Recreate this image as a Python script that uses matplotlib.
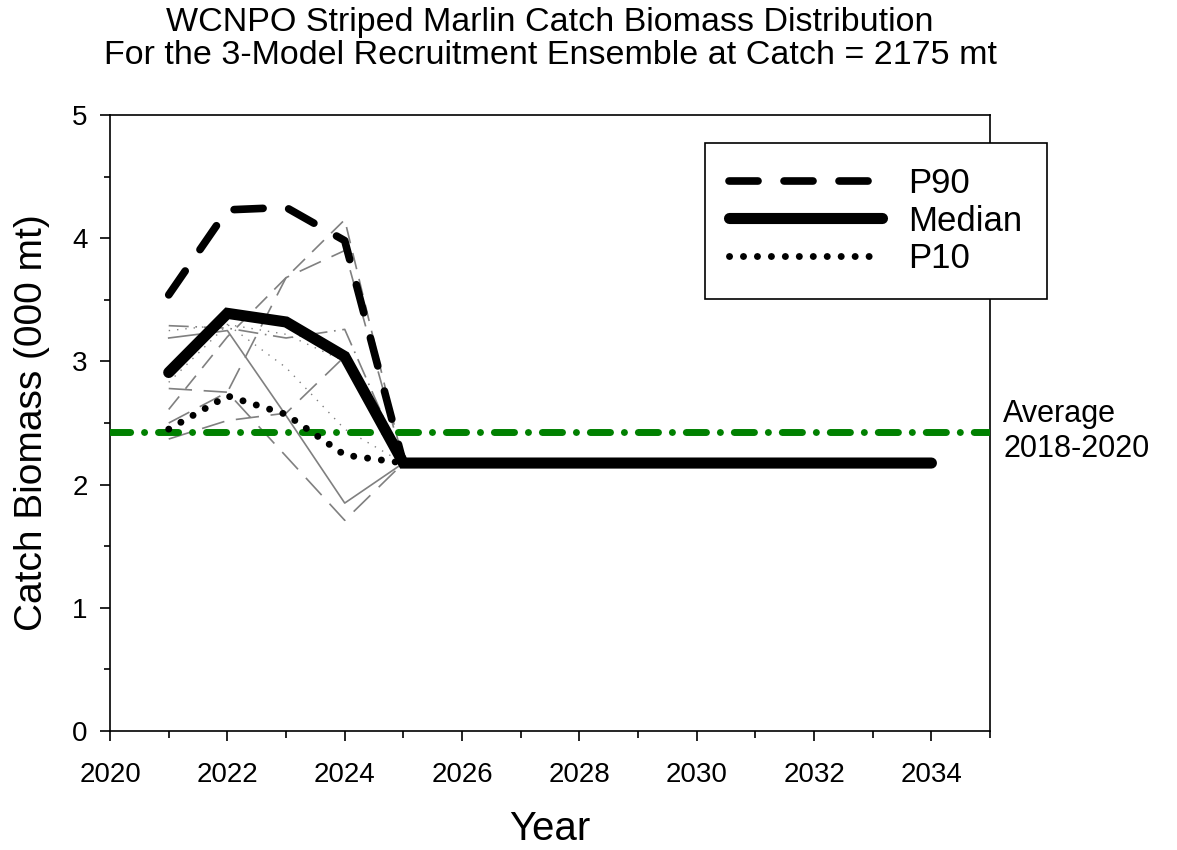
import matplotlib
matplotlib.use("Agg")
import matplotlib.pyplot as plt
from matplotlib.ticker import MultipleLocator

plt.rcParams['font.family'] = ['Liberation Sans', 'DejaVu Sans']

# data (000 mt)
years = [2021, 2022, 2023, 2024, 2025, 2026, 2027, 2028, 2029, 2030, 2031, 2032, 2033, 2034]
p90 = [3.54, 4.23, 4.25, 3.98, 2.175, 2.175, 2.175, 2.175, 2.175, 2.175, 2.175, 2.175, 2.175, 2.175]
median = [2.91, 3.39, 3.32, 3.04, 2.175, 2.175, 2.175, 2.175, 2.175, 2.175, 2.175, 2.175, 2.175, 2.175]
p10 = [2.45, 2.72, 2.57, 2.24, 2.175, 2.175, 2.175, 2.175, 2.175, 2.175, 2.175, 2.175, 2.175, 2.175]
avg_2018_2020 = 2.43

# individual ensemble runs (thin gray), 2021-2025
run_years = [2021, 2022, 2023, 2024, 2025]
run1 = [3.19, 3.25, 2.56, 1.85, 2.175]
run2 = [2.78, 2.75, 2.23, 1.71, 2.175]
run3 = [2.61, 3.20, 3.68, 4.15, 2.175]
run4 = [2.50, 2.75, 3.68, 3.90, 2.175]
run5 = [3.29, 3.27, 3.19, 3.26, 2.175]
run6 = [2.83, 3.30, 2.95, 2.45, 2.175]
run7 = [3.25, 3.30, 3.22, 3.00, 2.175]
run8 = [2.37, 2.52, 2.58, 3.04, 2.175]

fig = plt.figure(figsize=(11.77, 8.5), dpi=100)
ax = fig.add_axes([0.0935, 0.140, 0.7477, 0.7247])

gray = '#808080'
ax.plot(run_years, run1, color=gray, lw=1.2, ls='-')
ax.plot(run_years, run2, color=gray, lw=1.2, ls=(0, (14, 7)))
ax.plot(run_years, run3, color=gray, lw=1.2, ls=(0, (10, 6)))
ax.plot(run_years, run4, color=gray, lw=1.2, ls=(0, (14, 7)))
ax.plot(run_years, run5, color=gray, lw=1.2, ls=(0, (12, 4, 1, 4)))
ax.plot(run_years, run6, color=gray, lw=1.0, ls=(0, (1, 5)))
ax.plot(run_years, run7, color=gray, lw=1.0, ls=(0, (1, 5)))
ax.plot(run_years, run8, color=gray, lw=1.2, ls=(0, (14, 7)))

ax.axhline(avg_2018_2020, color='#008000', lw=5, ls=(0, (2.9, 2, 0.01, 2)),
           dash_capstyle='round', zorder=3)

l90, = ax.plot(years, p90, color='black', lw=5.5, ls=(0, (3.8, 3.4)),
               dash_capstyle='round', solid_capstyle='round', zorder=4, label='P90')
lmed, = ax.plot(years, median, color='black', lw=8, solid_capstyle='round',
                solid_joinstyle='miter', zorder=5, label='Median')
l10, = ax.plot(years, p10, color='black', lw=5, ls=(0, (0.01, 2.0)),
               dash_capstyle='round', zorder=4, label='P10')

ax.set_xlim(2020, 2035)
ax.set_ylim(0, 5)
ax.xaxis.set_major_locator(MultipleLocator(2))
ax.xaxis.set_minor_locator(MultipleLocator(1))
ax.yaxis.set_major_locator(MultipleLocator(1))
ax.yaxis.set_minor_locator(MultipleLocator(0.5))
ax.tick_params(which='both', direction='out', top=False, right=False, width=1.2, labelsize=20)
ax.tick_params(axis='x', which='major', length=7, pad=15)
ax.tick_params(axis='x', which='minor', length=5)
ax.tick_params(axis='y', which='major', length=7, pad=9)
ax.tick_params(axis='y', which='minor', length=4)
for s in ax.spines.values():
    s.set_linewidth(1.2)

ax.set_xlabel('Year', fontsize=29, labelpad=16)
ax.set_ylabel('Catch Biomass (000 mt)', fontsize=28, labelpad=16)
ax.set_title('WCNPO Striped Marlin Catch Biomass Distribution\n'
             'For the 3-Model Recruitment Ensemble at Catch = 2175 mt',
             fontsize=24.5, pad=37, linespacing=1.08)

ax.text(1.015, 2.43 / 5, 'Average\n2018-2020', transform=ax.transAxes,
        fontsize=22, va='center', ha='left', linespacing=1.2)

leg = ax.legend(handles=[l90, lmed, l10], loc='upper left',
                bbox_to_anchor=(0.676, 0.9545), fontsize=25, frameon=True,
                fancybox=False, edgecolor='black', framealpha=1,
                handlelength=4.4, handletextpad=0.75, labelspacing=0.12,
                borderpad=0.7, borderaxespad=0)
leg.get_frame().set_linewidth(1.2)

fig.savefig('out.png', dpi=100)
